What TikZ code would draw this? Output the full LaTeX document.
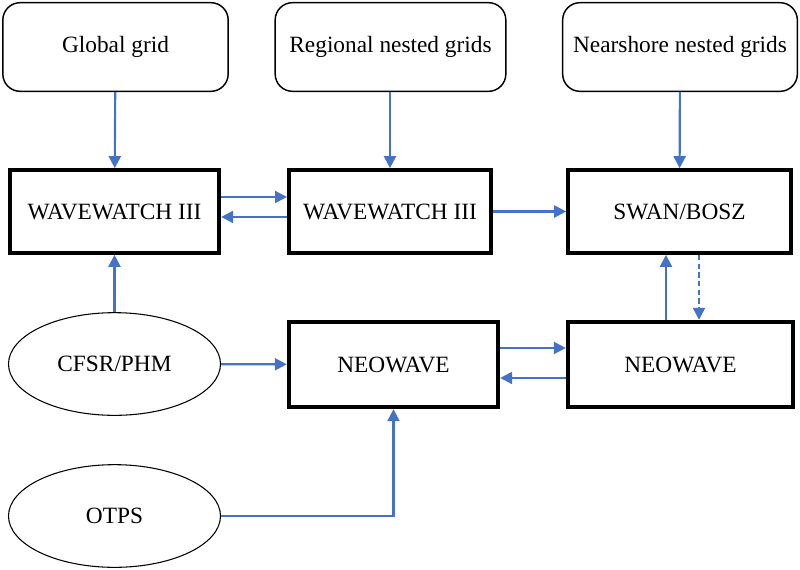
\documentclass[tikz,border=0pt]{standalone}
\usepackage{fontspec}
\setmainfont{Liberation Serif}
\usetikzlibrary{arrows.meta}
\usetikzlibrary{shapes.geometric}
\definecolor{flowblue}{RGB}{68,114,196}

\begin{document}
\begin{tikzpicture}[x=0.75pt,y=-0.75pt,font=\fontsize{17.5}{20}\selectfont,
grid/.style={draw,line width=1.1pt,rounded corners=13pt,minimum height=66.5pt},
model/.style={draw,line width=3pt},
forcing/.style={draw,ellipse,line width=0.8pt,minimum width=159pt,minimum height=77pt},
flow/.style={draw=flowblue,line width=1.6pt,-{Triangle[length=9pt,width=9pt]}}]%
\useasboundingbox (0,0) rectangle (800,569);%
\node[grid,minimum width=169pt] (glob) at (115.5,47) {Global grid};%
\node[grid,minimum width=173pt] (reg) at (390.5,47) {Regional nested grids};%
\node[grid,minimum width=176pt] (near) at (680,47) {Nearshore nested grids};%
\node[model,minimum width=157pt,minimum height=62pt] (ww1) at (114.5,211.5) {WAVEWATCH III};%
\node[model,minimum width=151.5pt,minimum height=62pt] (ww2) at (390,211.5) {WAVEWATCH III};%
\node[model,minimum width=167pt,minimum height=62pt] (swan) at (679.5,211.5) {SWAN/BOSZ};%
\node[forcing] (cfsr) at (114.5,364) {CFSR/PHM};%
\node[model,minimum width=157pt,minimum height=64pt] (neo1) at (393.5,364.5) {NEOWAVE};%
\node[model,minimum width=169pt,minimum height=64pt] (neo2) at (680.5,364.5) {NEOWAVE};%
\node[forcing] (otps) at (114.5,516) {OTPS};%
\draw[flow] (glob) -- (ww1);%
\draw[flow] (reg.south -| ww2) -- (ww2);%
\draw[flow] (near) -- (swan);%
\draw[flow] ([yshift=10.9pt]ww1.east) -- ([yshift=10.9pt]ww2.west);%
\draw[flow] ([yshift=-4.1pt]ww2.west) -- ([yshift=-4.1pt]ww1.east);%
\draw[flow] (ww2) -- (swan);%
\draw[flow] (cfsr) -- (ww1);%
\draw[flow] (cfsr) -- (neo1);%
\draw[flow] ([yshift=12.4pt]neo1.east) -- ([yshift=12.4pt]neo2.west);%
\draw[flow] ([yshift=-10.1pt]neo2.west) -- ([yshift=-10.1pt]neo1.east);%
\draw[flow] ([xshift=-10.9pt]neo2.north) -- ([xshift=-10.9pt]neo2.north |- swan.south);%
\draw[flow,dash pattern=on 4pt off 2.5pt] ([xshift=13.9pt]neo2.north |- swan.south) -- ([xshift=13.9pt]neo2.north);%
\draw[flow] (otps) -| (neo1);%
\end{tikzpicture}
\end{document}
